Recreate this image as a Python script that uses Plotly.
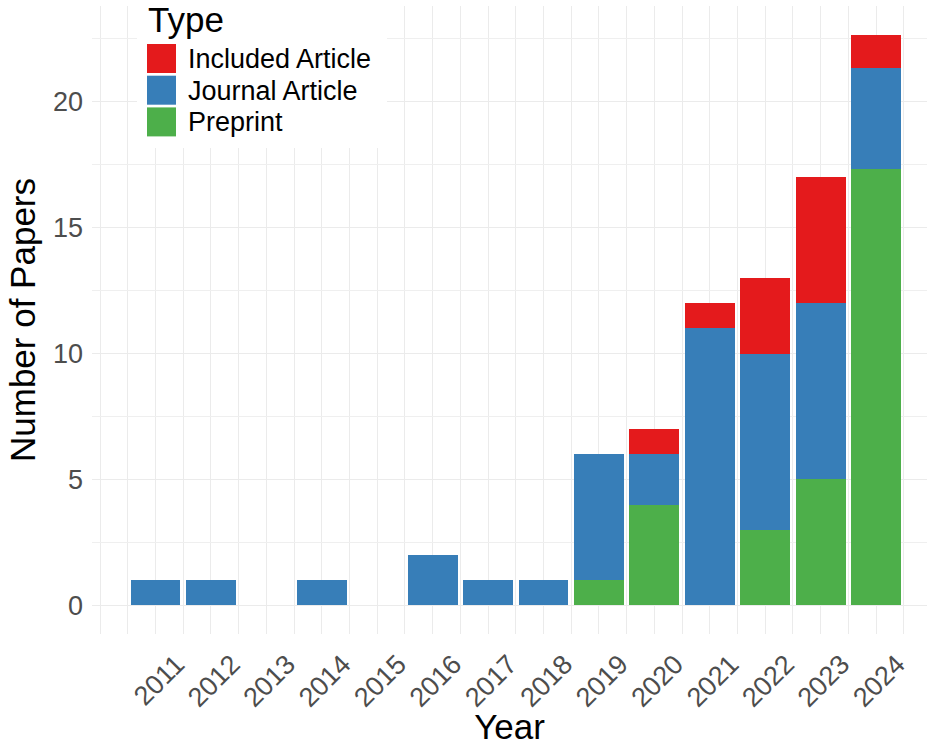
import plotly.graph_objects as go

years = [2011, 2012, 2013, 2014, 2015, 2016, 2017, 2018, 2019, 2020, 2021, 2022, 2023, 2024]
preprint = [0, 0, 0, 0, 0, 0, 0, 0, 1, 4, 0, 3, 5, 17.33]
journal = [1, 1, 0, 1, 0, 2, 1, 1, 5, 2, 11, 7, 7, 4]
included = [0, 0, 0, 0, 0, 0, 0, 0, 0, 1, 1, 3, 5, 1.33]
y_ticks = [0, 5, 10, 15, 20]

series = [("Preprint", preprint, "#4DAF4A"),
          ("Journal Article", journal, "#377EB8"),
          ("Included Article", included, "#E41A1C")]
legend_order = ["Included Article", "Journal Article", "Preprint"]
colors = {name: col for name, _, col in series}

FONT = "Liberation Sans, Arial, sans-serif"
W, H = 927, 746
ML, MR, MT, MB = 92, 0, 6, 112
PW, PH = W - ML - MR, H - MT - MB

fig = go.Figure()
for name, vals, col in series:
    fig.add_trace(go.Bar(x=years, y=vals, name=name, width=0.9,
                         marker=dict(color=col, line=dict(width=0)),
                         showlegend=False))

total_max = max(p + j + i for p, j, i in zip(preprint, journal, included))
ypad = 0.05 * total_max
xlo = years[0] - 0.45 - 0.05 * (years[-1] - years[0] + 0.9)
xhi = xlo + PW / 55.43

label_offset = 0.38
grid_x = [years[0] - 1 + 0.5 * k for k in range(0, 2 * (len(years) + 1))]

fig.update_layout(
    width=W, height=H,
    margin=dict(l=ML, r=MR, t=MT, b=MB, autoexpand=False),
    paper_bgcolor="white", plot_bgcolor="white",
    barmode="stack", bargap=0,
    font=dict(family=FONT, color="black"),
    xaxis=dict(
        range=[xlo, xhi], automargin=False,
        tickmode="array",
        tickvals=[y + label_offset for y in years],
        ticktext=[str(y) for y in years],
        tickangle=-45,
        tickfont=dict(size=27, color="#4D4D4D", family=FONT),
        showgrid=False, zeroline=False, showline=False, ticks="",
        ticklabelstandoff=8,
        minor=dict(tickmode="array", tickvals=grid_x, showgrid=True,
                   gridcolor="#EBEBEB", gridwidth=1.3, ticks=""),
        title=dict(text="Year", font=dict(size=35, color="black", family=FONT),
                   standoff=10),
    ),
    yaxis=dict(
        range=[-ypad, total_max + ypad], automargin=False,
        tickmode="array", tickvals=y_ticks,
        tickfont=dict(size=27, color="#4D4D4D", family=FONT),
        showgrid=True, gridcolor="#EBEBEB", gridwidth=1.4,
        zeroline=False, showline=False, ticks="",
        ticklabelstandoff=8,
        minor=dict(tickmode="linear", tick0=2.5, dtick=5, showgrid=True,
                   gridcolor="#EFEFEF", gridwidth=1, ticks=""),
        title=dict(text="Number of Papers", font=dict(size=35, color="black", family=FONT),
                   standoff=6),
    ),
)

def px(xp):
    return (xp - ML) / PW

def py(yp):
    return (H - MB - yp) / PH

# legend (manual, ggplot style)
fig.add_shape(type="rect", xref="paper", yref="paper",
              x0=px(137), x1=px(387), y0=py(148), y1=py(0),
              fillcolor="white", line=dict(width=0), layer="above")
fig.add_annotation(xref="paper", yref="paper", x=px(146), y=py(19),
                   text="Type", showarrow=False, xanchor="left", yanchor="middle",
                   font=dict(size=35, color="black", family=FONT))
key_top = [44, 75.7, 107.4]
for top, name in zip(key_top, legend_order):
    fig.add_shape(type="rect", xref="paper", yref="paper",
                  x0=px(147), x1=px(176), y0=py(top + 29), y1=py(top),
                  fillcolor=colors[name], line=dict(width=0), layer="above")
    fig.add_annotation(xref="paper", yref="paper", x=px(186), y=py(top + 15),
                       text=name, showarrow=False, xanchor="left", yanchor="middle",
                       font=dict(size=27, color="black", family=FONT))

fig.write_html("out.html", config={"displayModeBar": False},
               post_script="document.body.style.margin='0';document.body.style.padding='0';")
